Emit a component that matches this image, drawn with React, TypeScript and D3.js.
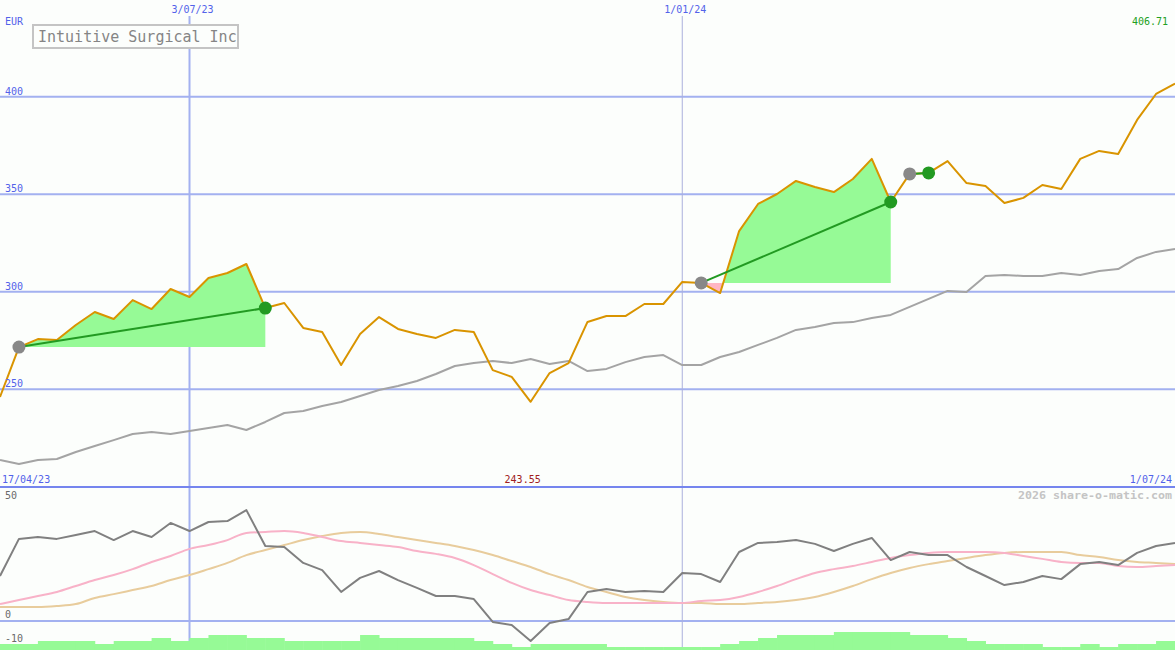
import React from "react";
import * as d3 from "d3";

// ---- data (weekly points, 17/04/23 .. 1/07/24) ----
const price = [
  246.0, 271.6, 275.7, 275.2, 282.9, 289.6, 286.0, 295.7, 291.1, 301.4,
  297.3, 307.0, 309.6, 314.2, 291.6, 294.2, 281.4, 279.3, 262.4, 278.3,
  287.0, 280.9, 278.3, 276.3, 280.4, 279.3, 259.8, 256.3, 243.55, 258.3,
  263.4, 284.5, 287.5, 287.5, 293.7, 293.7, 305.0, 304.5, 299.3, 331.1,
  345.0, 350.1, 356.8, 353.7, 351.1, 357.8, 368.1, 346.0, 360.4, 360.9,
  367.0, 355.7, 354.2, 345.5, 348.1, 354.7, 352.7, 368.1, 372.2, 370.6,
  388.1, 401.4, 406.71,
];
const benchmark = [
  213.7, 211.6, 213.7, 214.2, 217.8, 220.9, 223.9, 227.0, 228.1, 227.0,
  228.6, 230.1, 231.6, 229.1, 233.2, 237.8, 238.8, 241.4, 243.4, 246.5,
  249.6, 251.6, 254.2, 257.8, 261.9, 263.4, 264.5, 263.4, 265.5, 262.9,
  264.5, 259.3, 260.4, 263.9, 266.5, 267.5, 262.4, 262.4, 266.5, 269.1,
  272.7, 276.3, 280.4, 281.9, 283.9, 284.4, 286.5, 288.1, 292.2, 296.3,
  300.4, 299.9, 308.1, 308.6, 308.1, 308.1, 309.6, 308.6, 310.6, 311.6,
  317.3, 320.4, 321.9,
];
const oscillator = [
  18.9, 34.5, 35.3, 34.5, 36.1, 37.8, 34.0, 37.8, 35.3, 41.2,
  37.8, 41.6, 42.0, 46.6, 31.5, 31.1, 24.4, 21.4, 12.2, 18.1,
  21.0, 17.2, 13.9, 10.5, 10.5, 9.2, -0.4, -1.7, -8.4, -0.8,
  0.8, 12.2, 13.4, 12.2, 12.6, 12.2, 20.2, 19.7, 16.4, 29.0,
  32.8, 33.2, 34.0, 32.4, 29.4, 32.4, 34.9, 25.6, 29.0, 27.7,
  27.7, 22.7, 18.9, 15.1, 16.4, 18.9, 17.6, 23.9, 24.8, 23.5,
  28.6, 31.5, 32.8,
];
const signalFast = [
  7.1, 8.8, 10.5, 12.2, 14.7, 17.2, 19.3, 21.8, 24.8, 27.3,
  30.3, 31.9, 34.0, 37.0, 37.4, 37.8, 37.0, 35.3, 33.6, 32.8,
  31.9, 31.1, 29.4, 28.2, 26.5, 23.5, 19.7, 16.0, 13.0, 10.9,
  8.8, 8.0, 7.6, 7.6, 7.6, 7.6, 7.6, 8.4, 8.8, 10.1,
  12.2, 14.7, 17.6, 20.2, 21.8, 23.1, 24.8, 26.5, 27.7, 28.6,
  29.0, 29.0, 29.0, 28.6, 27.3, 26.1, 24.8, 24.4, 24.4, 23.1,
  22.7, 23.1, 23.5,
];
const signalSlow = [
  5.9, 5.9, 5.9, 6.3, 7.1, 9.7, 11.3, 13.0, 14.7, 17.2,
  19.3, 21.8, 24.4, 27.7, 29.8, 31.9, 34.0, 35.7, 37.0, 37.4,
  36.6, 35.3, 34.0, 32.8, 31.5, 29.8, 27.7, 25.2, 22.7, 19.7,
  17.2, 14.3, 12.2, 10.1, 8.8, 8.0, 7.6, 7.6, 7.1, 7.1,
  7.6, 8.0, 8.8, 10.1, 12.2, 14.7, 17.6, 20.2, 22.3, 23.9,
  25.2, 26.5, 27.7, 28.6, 29.0, 29.0, 29.0, 27.7, 26.9, 25.6,
  24.8, 24.4, 23.9,
];
const volume = [
  2, 2, 3, 3, 3, 2, 3, 3, 4, 3,
  4, 5, 5, 4, 4, 3, 3, 3, 3, 5,
  4, 4, 4, 4, 4, 3, 2, 1, 2, 2,
  2, 2, 1, 1, 1, 1, 1, 1, 2, 3,
  4, 5, 5, 5, 6, 6, 6, 6, 5, 5,
  4, 3, 2, 2, 2, 1, 1, 2, 1, 2,
  2, 3, 3,
];
const tradeEntry = [1, 37, 48];
const tradeExit = [14, 47, 49];
const priceTicks = [400, 350, 300, 250];
const oscTicks = [50, 0, -10];
const dateLabels = ["3/07/23", "1/01/24"];
const dateIndex = [10, 36];
const startLabel = "17/04/23";
const endLabel = "1/07/24";
const title = "Intuitive Surgical Inc";
const currency = "EUR";

const W = 1175;
const H = 650;
const SPLIT = 487;
const BG = "#fcfefc";
const MONO = "'DejaVu Sans Mono', 'Liberation Mono', monospace";

export default function App() {
  const idx = d3.range(price.length);
  const x = d3.scaleLinear().domain([0, price.length - 1]).range([0, W]);
  const y = d3.scaleLinear().domain([250, 400]).range([389.2, 96.7]);
  const yo = d3.scaleLinear().domain([0, 50]).range([621, 502]);
  const yv = d3.scaleLinear().domain([0, 6]).range([H, 632]);
  const step = x(1) - x(0);

  const priceLine = d3.line<number>().x((i) => x(i)).y((i) => y(price[i]));
  const benchLine = d3.line<number>().x((i) => x(i)).y((i) => y(benchmark[i]));
  const oscLine = d3.line<number>().x((i) => x(i)).y((i) => yo(oscillator[i]));
  const fastLine = d3
    .line<number>()
    .x((i) => x(i))
    .y((i) => yo(signalFast[i]))
    .curve(d3.curveMonotoneX);
  const slowLine = d3
    .line<number>()
    .x((i) => x(i))
    .y((i) => yo(signalSlow[i]))
    .curve(d3.curveMonotoneX);

  const maxP = d3.max(price) as number;
  const minP = d3.min(price) as number;
  const minI = price.indexOf(minP);

  return (
    <svg
      width={W}
      height={H}
      style={{ position: "fixed", left: 0, top: 0, display: "block" }}
      fontFamily={MONO}
    >
      <defs>
        <clipPath id="mainClip">
          <rect x={0} y={0} width={W} height={SPLIT} />
        </clipPath>
        <clipPath id="lowClip">
          <rect x={0} y={SPLIT + 1} width={W} height={H - SPLIT} />
        </clipPath>
        {tradeEntry.map((e, k) => (
          <React.Fragment key={k}>
            <clipPath id={`above${k}`}>
              <rect x={0} y={0} width={W} height={y(price[e])} />
            </clipPath>
            <clipPath id={`below${k}`}>
              <rect x={0} y={y(price[e])} width={W} height={H} />
            </clipPath>
          </React.Fragment>
        ))}
      </defs>
      <rect x={0} y={0} width={W} height={H} fill={BG} />

      {/* grid */}
      {priceTicks.map((t) => (
        <line key={t} x1={0} x2={W} y1={y(t)} y2={y(t)} stroke="#a3b1f0" strokeWidth={2} />
      ))}
      <line x1={0} x2={W} y1={yo(0)} y2={yo(0)} stroke="#a3b1f0" strokeWidth={2} />
      {dateIndex.map((d, k) => (
        <line
          key={d}
          x1={x(d)}
          x2={x(d)}
          y1={16}
          y2={H}
          stroke={k === 0 ? "#a3b1f0" : "#aab0dc"}
          strokeWidth={k === 0 ? 2 : 1}
        />
      ))}

      {/* trade fills */}
      {tradeEntry.map((e, k) => {
        const ids = d3.range(e, tradeExit[k] + 1);
        const base = y(price[e]);
        const area = d3
          .area<number>()
          .x((i) => x(i))
          .y0(base)
          .y1((i) => y(price[i]));
        return (
          <g key={k}>
            <path d={area(ids) || ""} fill="#96fa96" clipPath={`url(#above${k})`} />
            <path d={area(ids) || ""} fill="#ffb6c4" clipPath={`url(#below${k})`} />
          </g>
        );
      })}

      {/* volume */}
      <g clipPath="url(#lowClip)">
        {idx.map((i) => (
          <rect
            key={i}
            x={x(i)}
            y={yv(volume[i])}
            width={step + 0.5}
            height={H - yv(volume[i])}
            fill="#96fa96"
          />
        ))}
      </g>

      {/* main lines */}
      <g clipPath="url(#mainClip)" fill="none" strokeWidth={2} strokeLinejoin="round">
        <path d={benchLine(idx) || ""} stroke="#a4a4a4" />
        <path d={priceLine(idx) || ""} stroke="#d99400" />
      </g>

      {/* trades */}
      {tradeEntry.map((e, k) => (
        <g key={k}>
          <line
            x1={x(e)}
            y1={y(price[e])}
            x2={x(tradeExit[k])}
            y2={y(price[tradeExit[k]])}
            stroke="#229a22"
            strokeWidth={2}
          />
          <circle cx={x(e)} cy={y(price[e])} r={6.5} fill="#888888" />
          <circle cx={x(tradeExit[k])} cy={y(price[tradeExit[k]])} r={6.5} fill="#229a22" />
        </g>
      ))}

      {/* lower panel lines */}
      <g clipPath="url(#lowClip)" fill="none" strokeWidth={2} strokeLinejoin="round">
        <path d={slowLine(idx) || ""} stroke="#e8cc9c" />
        <path d={fastLine(idx) || ""} stroke="#f8b2c8" />
        <path d={oscLine(idx) || ""} stroke="#808080" />
      </g>

      {/* separator */}
      <line x1={0} x2={W} y1={SPLIT} y2={SPLIT} stroke="#7585ee" strokeWidth={2} />

      {/* title */}
      <rect x={33} y={25} width={205} height={23} fill={BG} stroke="#c4c4c4" strokeWidth={2} />
      <text x={38} y={42} fontSize={15} fill="#858585">
        {title}
      </text>

      {/* labels */}
      <g fontSize={10} fill="#5262ea">
        <text x={5} y={25}>{currency}</text>
        {priceTicks.map((t) => (
          <text key={t} x={5} y={y(t) - 2}>
            {t}
          </text>
        ))}
        {dateIndex.map((d, k) => (
          <text key={d} x={x(d) + 3} y={13} textAnchor="middle">
            {dateLabels[k]}
          </text>
        ))}
        <text x={2} y={483}>{startLabel}</text>
        <text x={1172} y={483} textAnchor="end">{endLabel}</text>
      </g>
      <text x={1168} y={25} fontSize={10} fill="#22a022" textAnchor="end">
        {maxP.toFixed(2)}
      </text>
      <text x={x(minI) - 8} y={483} fontSize={10} fill="#a02020" textAnchor="middle">
        {minP.toFixed(2)}
      </text>
      <text
        x={1172}
        y={499}
        fontSize={11}
        fontWeight="bold"
        fill="#c4c4c4"
        textAnchor="end"
        textLength={154}
        lengthAdjust="spacingAndGlyphs"
      >
        2026 share-o-matic.com
      </text>
      <g fontSize={10} fill="#6a6a6a">
        {oscTicks.map((t) => (
          <text key={t} x={5} y={Math.min(yo(t) - 3, 645)}>
            {t}
          </text>
        ))}
      </g>
    </svg>
  );
}
